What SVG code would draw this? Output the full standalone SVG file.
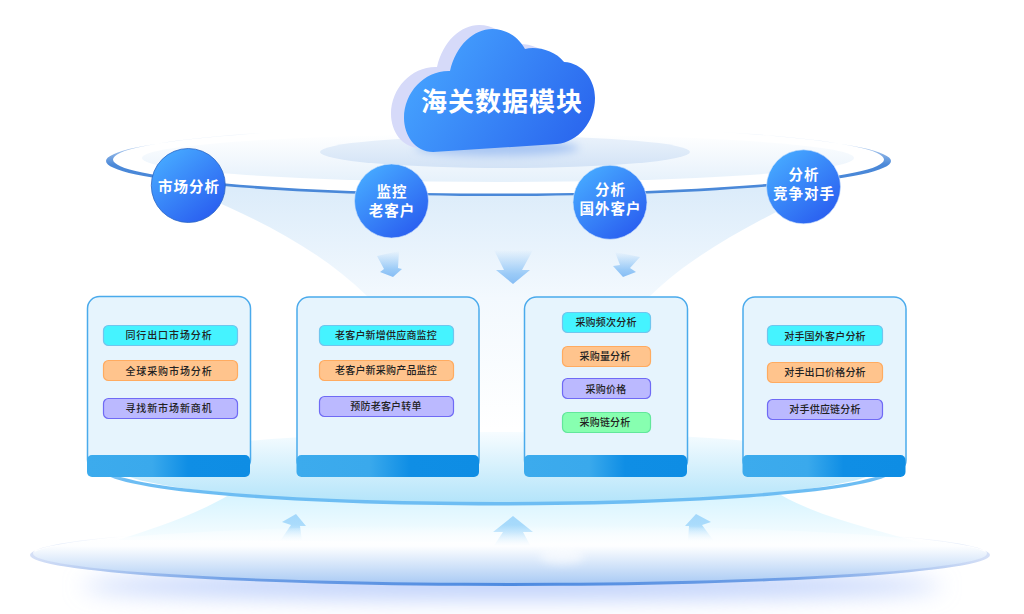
<svg xmlns="http://www.w3.org/2000/svg" width="1024" height="614" viewBox="0 0 1024 614">
<style>
text{font-family:"Noto Sans CJK SC","Liberation Sans",sans-serif;text-anchor:middle}
.c{fill:url(#gCircle);stroke:#cfe3fb;stroke-opacity:.6;stroke-width:1}
.c.d{stroke:#2a66c4;stroke-opacity:.8}
.ct{fill:#fff;font-size:14.500px;font-weight:700;letter-spacing:1px}
.card{fill:#e6f4fd;stroke:#4aaaec;stroke-width:1.5}
.bar{fill:url(#gBar)}
.p{stroke-width:1.2}
.cy{fill:#45f3ff;stroke:#6fc6ee}
.or{fill:#ffc48d;stroke:#ffab60}
.pu{fill:#bbb9ff;stroke:#6f6af5}
.gr{fill:#87ffb0;stroke:#62e79b}
.pt{fill:#222;font-size:10px;font-weight:500;letter-spacing:.2px}
.wide{letter-spacing:.9px}
</style>
<defs>
<linearGradient id="gCloud" x1="0" y1="0.35" x2="1" y2="0.75"><stop offset="0" stop-color="#46a4ff"/><stop offset="1" stop-color="#2a66ee"/></linearGradient>
<linearGradient id="gCircle" x1="0.2" y1="0.1" x2="0.85" y2="0.9"><stop offset="0" stop-color="#45a6ff"/><stop offset="1" stop-color="#2a5ff0"/></linearGradient>
<linearGradient id="gBar" x1="0" y1="0" x2="1" y2="0"><stop offset="0" stop-color="#3cabed"/><stop offset="0.4" stop-color="#3aa9ec"/><stop offset="0.62" stop-color="#0f8ee5"/><stop offset="1" stop-color="#0e8de4"/></linearGradient>
<linearGradient id="gFunTop" gradientUnits="userSpaceOnUse" x1="0" y1="190" x2="0" y2="430"><stop offset="0" stop-color="#dcecfa"/><stop offset="0.45" stop-color="#f3f9fe"/><stop offset="1" stop-color="#ffffff"/></linearGradient>
<linearGradient id="gFunBot" gradientUnits="userSpaceOnUse" x1="0" y1="495" x2="0" y2="552"><stop offset="0" stop-color="#d6f4ff"/><stop offset="1" stop-color="#ffffff"/></linearGradient>
<linearGradient id="gRingTop" gradientUnits="userSpaceOnUse" x1="0" y1="132" x2="0" y2="165"><stop offset="0" stop-color="#4a88d8" stop-opacity="0"/><stop offset="1" stop-color="#4a88d8"/></linearGradient>
<linearGradient id="gDisc" gradientUnits="userSpaceOnUse" x1="0" y1="134" x2="0" y2="182"><stop offset="0" stop-color="#ffffff"/><stop offset="1" stop-color="#e6f1fb"/></linearGradient>
<linearGradient id="gDiscSm" gradientUnits="userSpaceOnUse" x1="0" y1="136" x2="0" y2="168"><stop offset="0" stop-color="#eaf2fb"/><stop offset="1" stop-color="#d3e3f6"/></linearGradient>
<linearGradient id="gMid" gradientUnits="userSpaceOnUse" x1="0" y1="433" x2="0" y2="503"><stop offset="0" stop-color="#f6fcff"/><stop offset="1" stop-color="#b3e4fa"/></linearGradient>
<linearGradient id="gMidRing" gradientUnits="userSpaceOnUse" x1="0" y1="445" x2="0" y2="480"><stop offset="0" stop-color="#6dbdf3" stop-opacity="0"/><stop offset="1" stop-color="#6dbdf3"/></linearGradient>
<linearGradient id="gBase" gradientUnits="userSpaceOnUse" x1="0" y1="525" x2="0" y2="584"><stop offset="0" stop-color="#ffffff" stop-opacity="0"/><stop offset="0.36" stop-color="#fdfeff"/><stop offset="1" stop-color="#a9caf4"/></linearGradient>
<radialGradient id="gBaseRing" gradientUnits="userSpaceOnUse" cx="510" cy="590" r="500"><stop offset="0" stop-color="#4d8ae0"/><stop offset="0.55" stop-color="#6f9fe6"/><stop offset="1" stop-color="#dfe6f8"/></radialGradient>
<linearGradient id="gFade" gradientUnits="userSpaceOnUse" x1="0" y1="536" x2="0" y2="554"><stop offset="0" stop-color="#000"/><stop offset="1" stop-color="#fff"/></linearGradient>
<mask id="mBase" maskUnits="userSpaceOnUse" x="0" y="500" width="1024" height="114"><rect x="0" y="500" width="1024" height="114" fill="url(#gFade)"/></mask>
<linearGradient id="gArDn" x1="0" y1="0" x2="0" y2="1"><stop offset="0" stop-color="#8cc3f6" stop-opacity="0"/><stop offset="0.7" stop-color="#8cc3f6" stop-opacity=".85"/><stop offset="1" stop-color="#86bdf5"/></linearGradient>
<linearGradient id="gArUp" x1="0" y1="1" x2="0" y2="0"><stop offset="0" stop-color="#a3d8fb" stop-opacity="0"/><stop offset="0.6" stop-color="#a3d8fb" stop-opacity=".9"/><stop offset="1" stop-color="#a3d8fb"/></linearGradient>
<filter id="b4" x="-20%" y="-100%" width="140%" height="300%"><feGaussianBlur stdDeviation="4"/></filter>
<filter id="b10" x="-20%" y="-150%" width="140%" height="400%"><feGaussianBlur stdDeviation="11"/></filter>
<path id="cloudShape" d="M433 152C415 152 404 135 404 118C404 92 425 70 450 71C456 45 474 29 492 29C507 29 518 37 525 49C536 46 555 50 564 62C583 63 595 80 595 98C595 122 578 142 557 144Z"/>
</defs>
<rect width="1024" height="614" fill="#fff"/>

<g id="platforms">
<path d="M205 180L205 197C260 220 320 250 367 296C400 330 420 380 430 440L570 440C590 380 620 330 650 296C685 262 730 235 790 205L790 180Z" fill="url(#gFunTop)"/>
<path d="M229 495C195 515 155 528 118 540L928 545C880 530 825 520 781 495Z" fill="url(#gFunBot)"/>
<ellipse cx="498" cy="160" rx="386" ry="34" fill="#fff"/>
<ellipse cx="498" cy="158" rx="356" ry="24" fill="url(#gDisc)"/>
<ellipse cx="505" cy="152" rx="185" ry="16" fill="url(#gDiscSm)"/>
<path fill-rule="evenodd" fill="url(#gRingTop)" d="M106 161a392 35 0 1 0 785 0a392 35 0 1 0-785 0ZM113 159.500a385 34 0 1 0 771 0a385 34 0 1 0-771 0Z"/>
<ellipse cx="498" cy="468" rx="380" ry="36" fill="url(#gMid)"/>
<path fill-rule="evenodd" fill="url(#gMidRing)" d="M103 470a395 35.500 0 1 0 790 0a395 35.500 0 1 0-790 0ZM107 468a391 34 0 1 0 782 0a391 34 0 1 0-782 0Z"/>
<ellipse cx="512" cy="586" rx="430" ry="13" fill="#bccffb" filter="url(#b10)"/>
</g>

<g id="connectors">
<path fill="url(#gArDn)" d="M377 256L399 251L398 268L402 269L393 277L380 272L384 269Z"/>
<path fill="url(#gArDn)" d="M494 250L533 250L522 270L530 270L513 284L496 270L504 270Z"/>
<path fill="url(#gArDn)" d="M615 252L640 257L630 268L636 272L623 277L613 266L620 265Z"/>
<path fill="url(#gArUp)" d="M280 541L291 525L282 522L296 514L306 526L300 526L302 541Z"/>
<path fill="url(#gArUp)" d="M487 556L503 532L493 532L513 516L533 532L523 532L536 556Z"/>
<path fill="url(#gArUp)" d="M688 541L689 526L685 526L696 514L711 522L702 525L714 541Z"/>
</g>

<g id="base">
<ellipse cx="510" cy="555" rx="478" ry="30" fill="url(#gBase)"/>
<ellipse cx="562" cy="556" rx="22" ry="8" fill="#fff" opacity=".55" filter="url(#b4)"/>
<path mask="url(#mBase)" fill-rule="evenodd" fill="url(#gBaseRing)" d="M30 555a480 31 0 1 0 960 0a480 31 0 1 0-960 0ZM33 553.500a477 29.500 0 1 0 954 0a477 29.500 0 1 0-954 0Z"/>
</g>

<g id="cloud">
<ellipse cx="497" cy="148" rx="82" ry="8" fill="#a9c6f3" filter="url(#b4)"/>
<use href="#cloudShape" transform="translate(-13 -4)" fill="#d6daf9"/>
<use href="#cloudShape" fill="url(#gCloud)"/>
<text x="502" y="111" fill="#fff" font-size="26" font-weight="700" letter-spacing="1">海关数据模块</text>
</g>

<g id="node-market"><circle class="c d" cx="188.300" cy="185.500" r="37"/><text class="ct" x="189" y="191.500">市场分析</text></g>
<g id="node-old"><circle class="c" cx="391.500" cy="201" r="37"/><text class="ct" x="392" y="197">监控</text><text class="ct" x="392" y="216">老客户</text></g>
<g id="node-foreign"><circle class="c" cx="610" cy="202.300" r="37"/><text class="ct" x="610.500" y="195">分析</text><text class="ct" x="610.500" y="214">国外客户</text></g>
<g id="node-rival"><circle class="c" cx="803.500" cy="186.800" r="37"/><text class="ct" x="804" y="180">分析</text><text class="ct" x="804" y="199">竞争对手</text></g>

<g id="card-1">
<rect class="card" x="87.500" y="296.500" width="163" height="175" rx="12"/>
<rect class="bar" x="87" y="455" width="163" height="22" rx="5"/>
<rect class="p cy" x="103.500" y="325.500" width="134" height="20" rx="5"/><text class="pt wide" x="169" y="339">同行出口市场分析</text>
<rect class="p or" x="103.500" y="360.500" width="134" height="20" rx="5"/><text class="pt wide" x="169" y="374.500">全球采购市场分析</text>
<rect class="p pu" x="103.500" y="398.500" width="134" height="20" rx="5"/><text class="pt wide" x="169" y="412">寻找新市场新商机</text>
</g>
<g id="card-2">
<rect class="card" x="297" y="297" width="182" height="175" rx="12"/>
<rect class="bar" x="296.500" y="455" width="182.500" height="22" rx="5"/>
<rect class="p cy" x="319.500" y="325.500" width="134" height="20" rx="5"/><text class="pt" x="386" y="338.500">老客户新增供应商监控</text>
<rect class="p or" x="319.500" y="360.500" width="134" height="20" rx="5"/><text class="pt" x="386" y="374">老客户新采购产品监控</text>
<rect class="p pu" x="319.500" y="396.500" width="134" height="20" rx="5"/><text class="pt" x="386" y="410">预防老客户转单</text>
</g>
<g id="card-3">
<rect class="card" x="524.500" y="297" width="163" height="175" rx="12"/>
<rect class="bar" x="524" y="455" width="163" height="22" rx="5"/>
<rect class="p cy" x="562.500" y="312.500" width="88" height="20" rx="5"/><text class="pt" x="606" y="326">采购频次分析</text>
<rect class="p or" x="562.500" y="346.500" width="88" height="20" rx="5"/><text class="pt" x="605" y="360">采购量分析</text>
<rect class="p pu" x="562.500" y="378.500" width="88" height="20" rx="5"/><text class="pt" x="606" y="392.500">采购价格</text>
<rect class="p gr" x="562.500" y="412.500" width="88" height="20" rx="5"/><text class="pt" x="605" y="426">采购链分析</text>
</g>
<g id="card-4">
<rect class="card" x="743" y="297" width="163" height="175" rx="12"/>
<rect class="bar" x="742.500" y="455" width="163" height="22" rx="5"/>
<rect class="p cy" x="767.500" y="325.500" width="115" height="20" rx="5"/><text class="pt" x="825" y="339.500">对手国外客户分析</text>
<rect class="p or" x="767.500" y="362.500" width="115" height="20" rx="5"/><text class="pt" x="825" y="376">对手出口价格分析</text>
<rect class="p pu" x="767.500" y="399.500" width="115" height="20" rx="5"/><text class="pt" x="825" y="413">对手供应链分析</text>
</g>
</svg>
